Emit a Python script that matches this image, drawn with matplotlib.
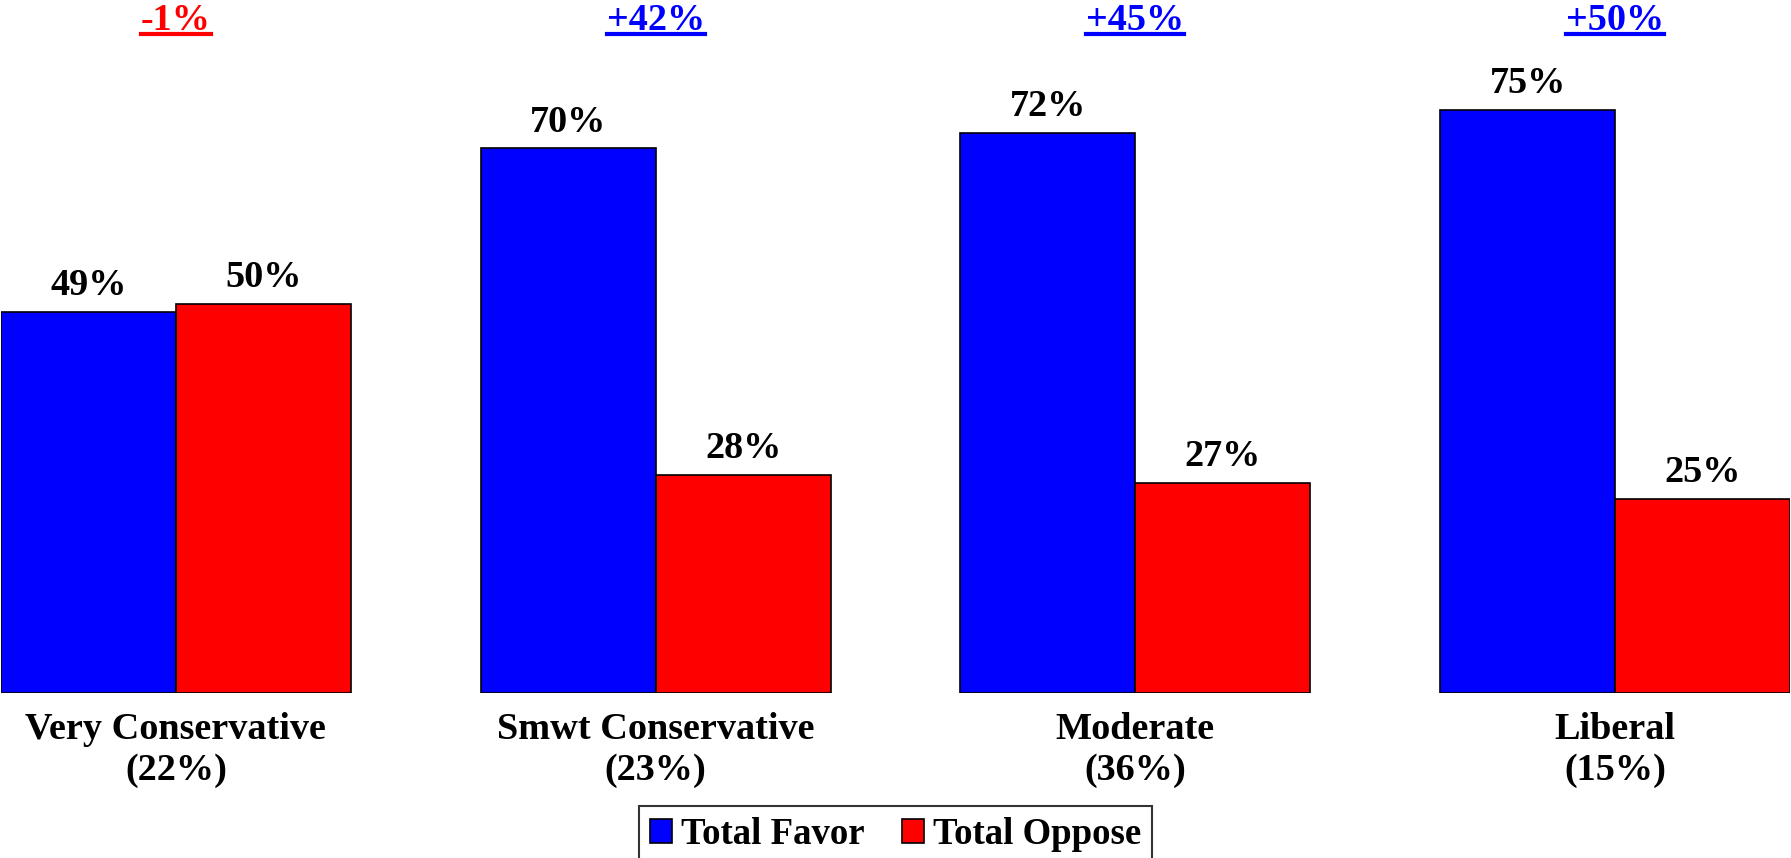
import matplotlib
matplotlib.use("Agg")
import matplotlib.pyplot as plt
from matplotlib.patches import Patch
from matplotlib.lines import Line2D
import numpy as np

# ── Data ───────────────────────────────────────────────────────────────────────
categories = ["Very Conservative", "Smwt Conservative", "Moderate", "Liberal"]
shares     = [22, 23, 36, 15]
favor      = [49, 70, 72, 75]
oppose     = [50, 28, 27, 25]
series     = ["Total Favor", "Total Oppose"]

BLUE = "#0000FF"
RED  = "#FF0000"
FONT = "Liberation Serif"

plt.rcParams["font.family"] = [FONT, "DejaVu Serif"]
plt.rcParams["font.weight"] = "bold"

W, H, DPI = 1791, 858, 100
fig = plt.figure(figsize=(W / DPI, H / DPI), dpi=DPI)

# axes: baseline 165 px above bottom, spans to top of figure
x0_px, x1_px = 1, 1790
y0_px = 165
ax = fig.add_axes([x0_px / W, y0_px / H, (x1_px - x0_px) / W, (H - y0_px) / H])

bw = 175 / 480          # bar width relative to group spacing
x = np.arange(len(categories))
b1 = ax.bar(x - bw / 2, favor, bw, color=BLUE, edgecolor="black", lw=1.2)
b2 = ax.bar(x + bw / 2, oppose, bw, color=RED, edgecolor="black", lw=1.2)

ax.set_xlim(-bw, len(categories) - 1 + bw)
ax.set_ylim(0, (H - y0_px) / 7.78)

# value labels above bars
for bars, vals in ((b1, favor), (b2, oppose)):
    for r, v in zip(bars, vals):
        ax.annotate(f"{v}%", (r.get_x() + r.get_width() / 2, r.get_height()),
                    xytext=(0, 12), textcoords="offset points",
                    ha="center", va="baseline", fontsize=27.5, fontweight="bold")

# category labels
ax.set_xticks(x)
ax.set_xticklabels([f"{c}\n({s}%)" for c, s in zip(categories, shares)],
                   fontsize=27.5, fontweight="bold", linespacing=1.2)
ax.tick_params(axis="x", length=0, pad=14)
ax.set_yticks([])
for s in ax.spines.values():
    s.set_visible(False)

# net difference labels (underlined)
diff_txt = []
for xi, f, o in zip(x, favor, oppose):
    d = f - o
    col = RED if d < 0 else BLUE
    t = ax.text(xi, 1 - 30 / (H - y0_px), f"{d:+d}%", transform=ax.get_xaxis_transform(),
                ha="center", va="baseline", fontsize=27.5, fontweight="bold",
                color=col, clip_on=False)
    diff_txt.append((t, col))

# legend
handles = [Patch(facecolor=BLUE, edgecolor="black", lw=1.2),
           Patch(facecolor=RED, edgecolor="black", lw=1.2)]
leg = fig.legend(handles, series, loc="upper center",
                 bbox_to_anchor=(0.5, 1 - 806 / H),
                 ncol=2, frameon=True, fancybox=False, edgecolor="black",
                 prop={"family": FONT, "weight": "bold", "size": 26.5},
                 handlelength=0.6, handleheight=0.6, handletextpad=0.25,
                 columnspacing=1.0, borderpad=0.3, borderaxespad=0)
leg.get_frame().set_linewidth(1.5)

# draw underlines under diff labels
fig.canvas.draw()
r = fig.canvas.get_renderer()
for t, col in diff_txt:
    bb = t.get_window_extent(r)
    ybase = H - 34
    fig.add_artist(Line2D([bb.x0 / W, bb.x1 / W], [ybase / H, ybase / H],
                          color=col, lw=3, transform=fig.transFigure))

fig.savefig("out.png", dpi=DPI)
